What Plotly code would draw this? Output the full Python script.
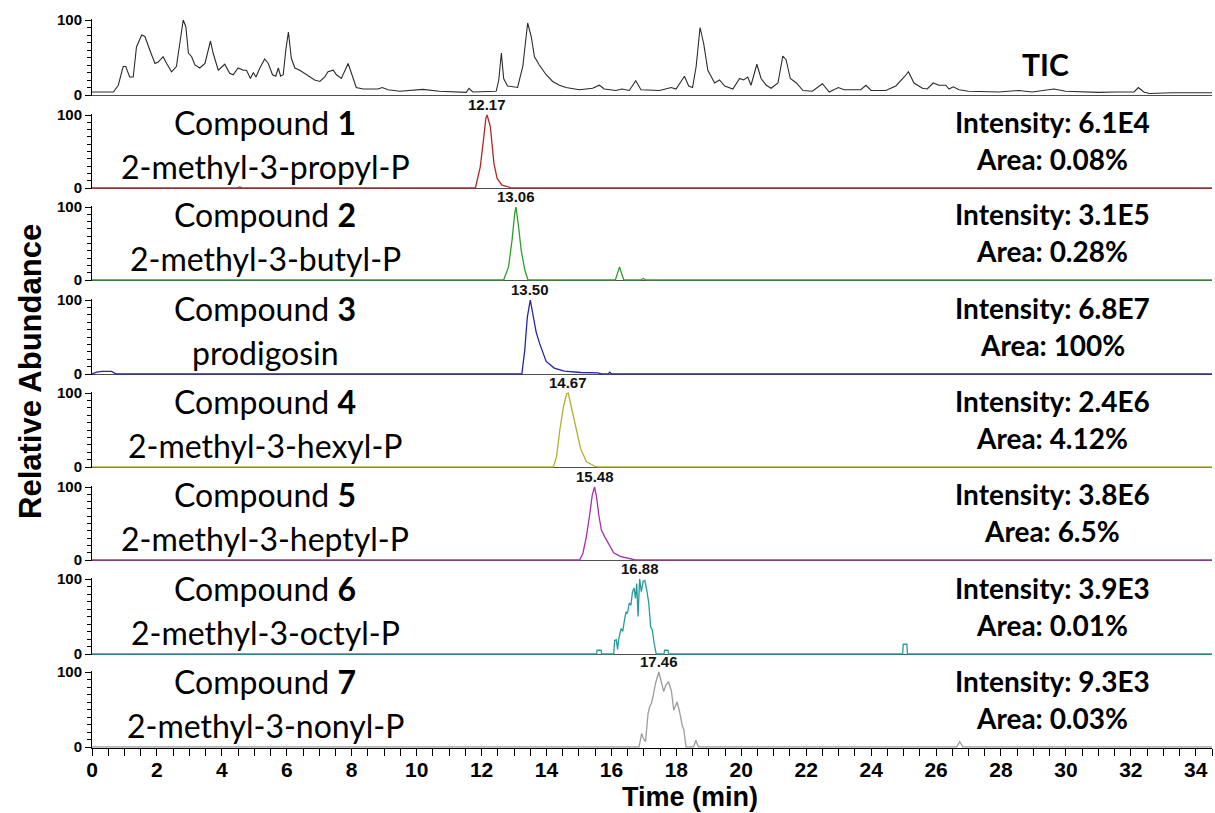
import plotly.graph_objects as go

# ---------------- data ----------------
tic_t = [0.0, 0.66, 0.81, 0.96, 1.04, 1.16, 1.27, 1.37, 1.53, 1.63,
         1.78, 1.94, 2.04, 2.19, 2.30, 2.45, 2.60, 2.71, 2.81, 2.89,
         2.97, 3.07, 3.17, 3.32, 3.48, 3.65, 3.73, 3.89, 4.09, 4.24,
         4.35, 4.50, 4.66, 4.76, 4.88, 4.97, 5.05, 5.17, 5.32, 5.43,
         5.56, 5.66, 5.74, 5.81, 5.89, 5.97, 6.05, 6.14, 6.25, 6.40,
         6.55, 6.71, 6.86, 7.02, 7.17, 7.27, 7.43, 7.53, 7.68, 7.89,
         7.99, 8.14, 8.35, 8.55, 8.81, 8.94, 9.12, 9.48, 10.19, 10.70,
         11.53, 11.61, 11.73, 12.45, 12.53, 12.61, 12.68, 12.80, 13.11, 13.27,
         13.42, 13.53, 13.63, 13.78, 13.99, 14.19, 14.40, 14.60, 15.01, 15.42,
         15.63, 15.78, 16.14, 16.32, 16.55, 16.75, 16.91, 17.48, 17.84, 17.99,
         18.25, 18.38, 18.50, 18.61, 18.73, 18.84, 18.97, 19.18, 19.33, 19.49,
         19.74, 19.95, 20.07, 20.20, 20.30, 20.48, 20.61, 20.77, 20.92, 21.13,
         21.28, 21.38, 21.51, 21.70, 21.90, 22.19, 22.50, 22.71, 22.99, 23.17,
         23.68, 23.84, 24.00, 24.45, 24.76, 25.02, 25.15, 25.32, 25.58, 25.73,
         25.91, 26.09, 26.30, 26.40, 26.53, 26.71, 27.00, 27.94, 28.55, 28.96,
         29.63, 29.99, 31.00, 31.54, 32.10, 32.23, 32.40, 32.57, 33.27, 34.50]
tic_v = [4, 4, 13, 38, 38, 24, 24, 64, 80, 78,
         60, 42, 44, 51, 42, 31, 38, 69, 100, 91,
         56, 51, 40, 36, 42, 72, 56, 33, 41, 29,
         27, 36, 33, 33, 22, 30, 24, 36, 48, 42,
         27, 25, 36, 25, 27, 60, 84, 49, 36, 33,
         29, 24, 20, 18, 24, 31, 33, 27, 22, 42,
         29, 10, 8, 8, 8, 10, 7, 5, 7.5, 5,
         3.5, 9, 4, 5, 20, 56, 22, 12, 10, 38,
         96, 78, 51, 40, 27, 18, 13, 10, 7, 9,
         13, 8, 6, 8, 6, 19, 7, 6, 10, 8,
         25, 12, 10, 38, 90, 69, 33, 16, 20, 12,
         8, 22, 20, 24, 13, 41, 22, 13, 9, 16,
         52, 47, 22, 16, 6, 5, 15, 4, 10, 7,
         7, 13, 6, 6, 12, 24, 31, 16, 9, 8,
         16, 13, 13, 8, 11, 7, 5, 4, 6, 4,
         8, 5, 3.5, 4, 4, 10, 4, 2, 3, 3]

c1_t = [0, 4.45, 4.55, 4.65, 11.81, 11.96, 12.07, 12.13, 12.17, 12.27, 12.38, 12.48, 12.63, 12.94, 34.5]
c1_v = [0, 0, 1.5, 0, 0, 29, 70, 95, 100, 84, 34, 13, 4, 0, 0]

c2_t = [0, 12.68, 12.83, 12.94, 13.02, 13.06, 13.14, 13.22, 13.33, 13.43,
        16.12, 16.25, 16.38, 16.90, 16.98, 17.06, 34.5]
c2_v = [0, 0, 18, 55, 91, 100, 73, 41, 14, 0,
        0, 18, 0, 0, 2, 0, 0]

c3_t = [0, 0.15, 0.30, 0.60, 0.75, 13.24, 13.33, 13.41, 13.50, 13.58, 13.68,
        13.79, 13.99, 14.24, 14.55, 15.06, 15.58, 15.70, 15.90, 15.95, 16.00, 34.5]
c3_v = [0, 2.5, 3.5, 3.5, 0, 0, 32, 77, 100, 82, 57,
        41, 17, 8, 4, 2, 1.5, 0, 0, 2.5, 0, 0]

c4_t = [0, 14.21, 14.31, 14.41, 14.52, 14.62, 14.67, 14.77, 14.91, 15.05, 15.23, 15.49, 15.59, 34.5]
c4_v = [0, 0, 14, 50, 81, 99, 100, 81, 50, 25, 7, 1, 0, 0]

c5_t = [0, 15.02, 15.12, 15.22, 15.33, 15.41, 15.48, 15.54, 15.61, 15.69,
        15.79, 15.92, 16.07, 16.27, 16.53, 16.74, 34.5]
c5_v = [0, 0, 9, 30, 62, 89, 100, 87, 62, 41,
        32, 21, 10, 5, 2, 0, 0]

c6_t = [0, 15.54, 15.56, 15.68, 15.70, 16.07, 16.10, 16.15, 16.19, 16.22,
        16.30, 16.35, 16.40, 16.45, 16.49, 16.55, 16.60, 16.65, 16.70, 16.74,
        16.78, 16.82, 16.87, 16.92, 16.98, 17.03, 17.09, 17.15, 17.21, 17.26,
        17.31, 17.38, 17.62, 17.64, 17.74, 17.76, 24.97, 24.99, 25.10, 25.12, 34.5]
c6_v = [0, 0, 5, 5, 0, 0, 18, 19, 6, 19,
        34, 30, 45, 56, 54, 68, 65, 83, 88, 74,
        94, 50, 100, 83, 97, 98, 85, 68, 36, 32,
        16, 0, 0, 5, 5, 0, 0, 13, 13, 0, 0]

c7_t = [0, 16.85, 16.93, 16.98, 17.05, 17.13, 17.18, 17.23, 17.28, 17.36,
        17.46, 17.54, 17.61, 17.68, 17.76, 17.85, 17.92, 18.02, 18.09, 18.18,
        18.23, 18.30, 18.53, 18.60, 18.68, 26.63, 26.73, 26.83, 34.5]
c7_v = [0, 0, 18, 12, 7, 45, 54, 58, 67, 85,
        100, 85, 74, 83, 87, 74, 49, 60, 49, 29,
        23, 0, 0, 9, 0, 0, 7, 0, 0]

peak_rt = [12.17, 13.06, 13.50, 14.67, 15.48, 16.88, 17.46]
peak_labels = ["12.17", "13.06", "13.50", "14.67", "15.48", "16.88", "17.46"]
compound_ids = ["1", "2", "3", "4", "5", "6", "7"]
compound_names = ["2-methyl-3-propyl-P", "2-methyl-3-butyl-P", "prodigosin",
                  "2-methyl-3-hexyl-P", "2-methyl-3-heptyl-P", "2-methyl-3-octyl-P",
                  "2-methyl-3-nonyl-P"]
intensity = ["6.1E4", "3.1E5", "6.8E7", "2.4E6", "3.8E6", "3.9E3", "9.3E3"]
area = ["0.08%", "0.28%", "100%", "4.12%", "6.5%", "0.01%", "0.03%"]

x_ticks = list(range(0, 35, 2))

# ---------------- styling / layout ----------------
series_t = [tic_t, c1_t, c2_t, c3_t, c4_t, c5_t, c6_t, c7_t]
series_v = [tic_v, c1_v, c2_v, c3_v, c4_v, c5_v, c6_v, c7_v]
colors = ["#2b2b2b", "#b02828", "#2e9e2e", "#2424a4", "#b5ae30", "#a82ea8", "#249c9c", "#9c9c9c"]

W, H = 1215, 813
ML, MR, MT, MB = 92, 3, 0, 65
PH = H - MT - MB
PW = W - ML - MR
zero_px = [95, 188, 280, 374, 467, 560, 654, 747]
full_px = [20, 115, 207, 300, 393, 487, 579, 672]
YR = [-1, 101]

def ypap(px):
    return (PH - px) / PH

def xpap(px):
    return (px - ML) / PW

fig = go.Figure()
layout = {}
annotations = []
num_font = dict(family="Liberation Sans, Arial", size=15, color="black", weight="bold")
text_font = "Lato, Open Sans, sans-serif"

for i in range(8):
    yid = "y" if i == 0 else f"y{i+1}"
    ykey = "yaxis" if i == 0 else f"yaxis{i+1}"
    fig.add_trace(go.Scatter(x=series_t[i], y=series_v[i], mode="lines",
                             line=dict(color=colors[i], width=1.3 if i else 1.1),
                             xaxis="x", yaxis=yid, showlegend=False, hoverinfo="skip"))
    ppu = (zero_px[i] - full_px[i]) / 100.0
    bot = zero_px[i] + (0 - YR[0]) * ppu
    top = full_px[i] - (YR[1] - 100) * ppu
    layout[ykey] = dict(
        domain=[max(0.0, ypap(bot)), min(1.0, ypap(top))], range=YR, anchor="x",
        showgrid=False, zeroline=True, zerolinecolor="#505050", zerolinewidth=1,
        showline=True, linecolor="black", linewidth=1, automargin=False,
        tickmode="linear", tick0=0, dtick=100, ticks="outside", ticklen=6,
        tickcolor="black", tickfont=num_font,
        minor=dict(tickmode="linear", tick0=0, dtick=10, ticks="outside", ticklen=4, tickcolor="black"),
        fixedrange=True,
    )

    if i > 0:
        k = i - 1
        z = zero_px[i]
        annotations.append(dict(xref="x", yref=yid, x=peak_rt[k], y=100, yanchor="bottom",
                                xanchor="center",
                                text=peak_labels[k], showarrow=False,
                                font=dict(family="Liberation Sans, Arial", size=15, color="#111", weight="bold")))
        annotations.append(dict(xref="paper", yref="paper", x=xpap(265), y=ypap(z - 65.5), yanchor="middle",
                                xanchor="center",
                                text=f"Compound <b>{compound_ids[k]}</b>", showarrow=False,
                                font=dict(family=text_font, size=32, color="black")))
        annotations.append(dict(xref="paper", yref="paper", x=xpap(265), y=ypap(z - 22), yanchor="middle",
                                xanchor="center",
                                text=compound_names[k], showarrow=False,
                                font=dict(family=text_font, size=32, color="black")))
        annotations.append(dict(xref="paper", yref="paper", x=xpap(1052), y=ypap(z - 66), yanchor="middle",
                                xanchor="center",
                                text=f"Intensity: {intensity[k]}", showarrow=False,
                                font=dict(family=text_font, size=28, color="black", weight="bold")))
        annotations.append(dict(xref="paper", yref="paper", x=xpap(1052), y=ypap(z - 29), yanchor="middle",
                                xanchor="center",
                                text=f"Area: {area[k]}", showarrow=False,
                                font=dict(family=text_font, size=28, color="black", weight="bold")))

annotations.append(dict(xref="paper", yref="paper", x=xpap(1045), y=ypap(64), yanchor="middle",
                        xanchor="center",
                        text="TIC", showarrow=False,
                        font=dict(family=text_font, size=30, color="black", weight="bold")))
annotations.append(dict(xref="paper", yref="paper", x=xpap(690), y=ypap(796.5), yanchor="middle",
                        xanchor="center",
                        text="Time (min)", showarrow=False,
                        font=dict(family="Liberation Sans, Arial", size=27, color="black", weight="bold")))
annotations.append(dict(xref="paper", yref="paper", x=xpap(30), y=ypap(372), yanchor="middle",
                        xanchor="center", textangle=-90,
                        text="Relative Abundance", showarrow=False,
                        font=dict(family="Liberation Sans, Arial", size=31, color="black", weight="bold")))

layout["xaxis"] = dict(
    domain=[0, 1], range=[0, 34.5], anchor="y8", showgrid=False, zeroline=False,
    showline=True, linecolor="black", linewidth=1, automargin=False,
    tickmode="array", tickvals=x_ticks, ticktext=[str(v) for v in x_ticks],
    ticks="outside", ticklen=7, tickcolor="black", ticklabelstandoff=-4,
    tickfont=dict(family="Liberation Sans, Arial", size=21, color="black", weight="bold"),
    minor=dict(tickmode="linear", tick0=0, dtick=0.5, ticks="outside", ticklen=7, tickcolor="black"),
    fixedrange=True,
)

fig.update_layout(
    width=W, height=H, margin=dict(l=ML, r=MR, t=MT, b=MB, pad=0, autoexpand=False),
    paper_bgcolor="white", plot_bgcolor="white",
    annotations=annotations, showlegend=False, **layout,
)

fig.write_html("out.html", config={"displayModeBar": False, "staticPlot": True},
               post_script="document.body.style.margin='0';document.body.style.overflow='hidden';")
